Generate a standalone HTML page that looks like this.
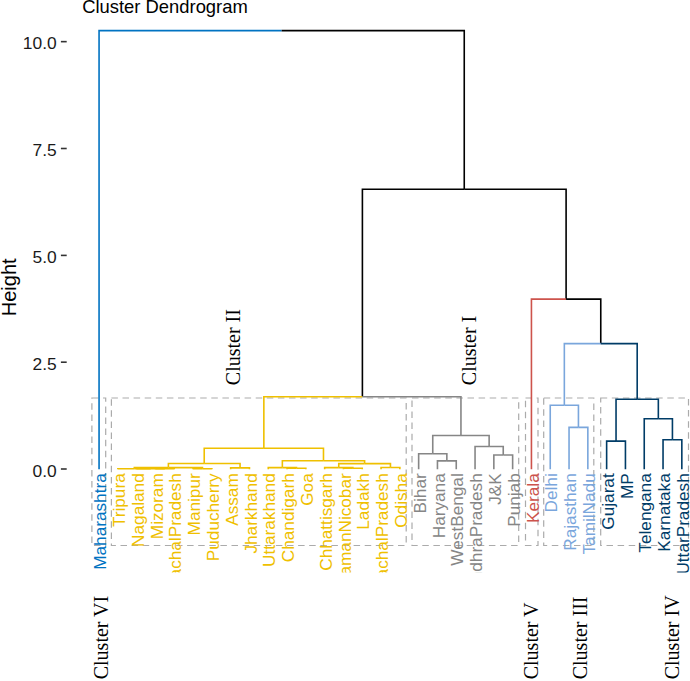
<!DOCTYPE html><html><head><meta charset="utf-8"><style>html,body{margin:0;padding:0;background:#fff;overflow:hidden;}svg{display:block;}</style></head><body>
<svg width="690" height="681" viewBox="0 0 690 681">
<rect width="690" height="681" fill="#fff"/>
<defs><clipPath id="pc"><rect x="0" y="0" width="690" height="572.5"/></clipPath></defs>
<text x="82.2" y="12.8" font-family="Liberation Sans" font-size="18.4" fill="#000">Cluster Dendrogram</text>
<line x1="60.9" y1="41.65" x2="66.7" y2="41.65" stroke="#333" stroke-width="1.6"/>
<text x="56.7" y="49.15" text-anchor="end" font-family="Liberation Sans" font-size="17.4" fill="#1a1a1a">10.0</text>
<line x1="60.9" y1="148.5" x2="66.7" y2="148.5" stroke="#333" stroke-width="1.6"/>
<text x="56.7" y="156.00" text-anchor="end" font-family="Liberation Sans" font-size="17.4" fill="#1a1a1a">7.5</text>
<line x1="60.9" y1="255.4" x2="66.7" y2="255.4" stroke="#333" stroke-width="1.6"/>
<text x="56.7" y="262.90" text-anchor="end" font-family="Liberation Sans" font-size="17.4" fill="#1a1a1a">5.0</text>
<line x1="60.9" y1="362.2" x2="66.7" y2="362.2" stroke="#333" stroke-width="1.6"/>
<text x="56.7" y="369.70" text-anchor="end" font-family="Liberation Sans" font-size="17.4" fill="#1a1a1a">2.5</text>
<line x1="60.9" y1="469.0" x2="66.7" y2="469.0" stroke="#333" stroke-width="1.6"/>
<text x="56.7" y="476.50" text-anchor="end" font-family="Liberation Sans" font-size="17.4" fill="#1a1a1a">0.0</text>
<text transform="translate(16.2,316.2) rotate(-90)" font-family="Liberation Sans" font-size="20" fill="#000">Height</text>
<rect x="91.90" y="398.0" width="13.80" height="147.50" fill="none" stroke="#ababab" stroke-width="1.2" stroke-dasharray="6.5 4.6"/>
<rect x="111.40" y="398.0" width="294.80" height="147.50" fill="none" stroke="#ababab" stroke-width="1.2" stroke-dasharray="6.5 4.6"/>
<rect x="412.00" y="398.0" width="106.70" height="147.50" fill="none" stroke="#ababab" stroke-width="1.2" stroke-dasharray="6.5 4.6"/>
<rect x="525.50" y="398.0" width="12.50" height="147.50" fill="none" stroke="#ababab" stroke-width="1.2" stroke-dasharray="6.5 4.6"/>
<rect x="543.70" y="398.0" width="50.10" height="147.50" fill="none" stroke="#ababab" stroke-width="1.2" stroke-dasharray="6.5 4.6"/>
<rect x="600.70" y="398.0" width="87.80" height="147.50" fill="none" stroke="#ababab" stroke-width="1.2" stroke-dasharray="6.5 4.6"/>
<path d="M281.66,30.6 H99.06 V469.3" fill="none" stroke="#0073C2" stroke-width="1.6"/>
<path d="M281.66,30.6 H464.25 V189.3" fill="none" stroke="#000000" stroke-width="1.6"/>
<path d="M464.25,189.3 H362.40 V396.7" fill="none" stroke="#000000" stroke-width="1.6"/>
<path d="M362.40,396.7 H263.85 V448.2" fill="none" stroke="#EFC000" stroke-width="1.6"/>
<path d="M263.85,448.2 H204.22 V463.5" fill="none" stroke="#EFC000" stroke-width="1.6"/>
<path d="M204.22,463.5 H168.39 V467.6" fill="none" stroke="#EFC000" stroke-width="1.6"/>
<path d="M168.39,467.6 H134.31 V468.7" fill="none" stroke="#EFC000" stroke-width="1.6"/>
<path d="M134.31,468.7 H117.86 V469.3" fill="none" stroke="#EFC000" stroke-width="1.6"/>
<path d="M134.31,468.7 H150.76 V468.7" fill="none" stroke="#EFC000" stroke-width="1.6"/>
<path d="M150.76,468.7 H136.66 V469.3" fill="none" stroke="#EFC000" stroke-width="1.6"/>
<path d="M150.76,468.7 H164.86 V468.7" fill="none" stroke="#EFC000" stroke-width="1.6"/>
<path d="M164.86,468.7 H155.46 V469.3" fill="none" stroke="#EFC000" stroke-width="1.6"/>
<path d="M164.86,468.7 H174.26 V469.3" fill="none" stroke="#EFC000" stroke-width="1.6"/>
<path d="M168.39,467.6 H202.46 V468.7" fill="none" stroke="#EFC000" stroke-width="1.6"/>
<path d="M202.46,468.7 H193.06 V469.3" fill="none" stroke="#EFC000" stroke-width="1.6"/>
<path d="M202.46,468.7 H211.86 V469.3" fill="none" stroke="#EFC000" stroke-width="1.6"/>
<path d="M204.22,463.5 H240.06 V467.9" fill="none" stroke="#EFC000" stroke-width="1.6"/>
<path d="M240.06,467.9 H230.66 V469.3" fill="none" stroke="#EFC000" stroke-width="1.6"/>
<path d="M240.06,467.9 H249.46 V469.3" fill="none" stroke="#EFC000" stroke-width="1.6"/>
<path d="M263.85,448.2 H323.48 V460.7" fill="none" stroke="#EFC000" stroke-width="1.6"/>
<path d="M323.48,460.7 H282.36 V467.6" fill="none" stroke="#EFC000" stroke-width="1.6"/>
<path d="M282.36,467.6 H268.26 V469.3" fill="none" stroke="#EFC000" stroke-width="1.6"/>
<path d="M282.36,467.6 H296.45 V468.3" fill="none" stroke="#EFC000" stroke-width="1.6"/>
<path d="M296.45,468.3 H287.06 V469.3" fill="none" stroke="#EFC000" stroke-width="1.6"/>
<path d="M296.45,468.3 H305.85 V469.3" fill="none" stroke="#EFC000" stroke-width="1.6"/>
<path d="M323.48,460.7 H364.60 V463.6" fill="none" stroke="#EFC000" stroke-width="1.6"/>
<path d="M364.60,463.6 H338.75 V467.6" fill="none" stroke="#EFC000" stroke-width="1.6"/>
<path d="M338.75,467.6 H324.65 V469.3" fill="none" stroke="#EFC000" stroke-width="1.6"/>
<path d="M338.75,467.6 H352.85 V468.3" fill="none" stroke="#EFC000" stroke-width="1.6"/>
<path d="M352.85,468.3 H343.45 V469.3" fill="none" stroke="#EFC000" stroke-width="1.6"/>
<path d="M352.85,468.3 H362.25 V469.3" fill="none" stroke="#EFC000" stroke-width="1.6"/>
<path d="M364.60,463.6 H390.45 V467.5" fill="none" stroke="#EFC000" stroke-width="1.6"/>
<path d="M390.45,467.5 H381.05 V469.3" fill="none" stroke="#EFC000" stroke-width="1.6"/>
<path d="M390.45,467.5 H399.85 V469.3" fill="none" stroke="#EFC000" stroke-width="1.6"/>
<path d="M362.40,396.7 H460.95 V435.5" fill="none" stroke="#868686" stroke-width="1.6"/>
<path d="M460.95,435.5 H432.75 V453.7" fill="none" stroke="#868686" stroke-width="1.6"/>
<path d="M432.75,453.7 H418.65 V469.3" fill="none" stroke="#868686" stroke-width="1.6"/>
<path d="M432.75,453.7 H446.85 V460.9" fill="none" stroke="#868686" stroke-width="1.6"/>
<path d="M446.85,460.9 H437.45 V469.3" fill="none" stroke="#868686" stroke-width="1.6"/>
<path d="M446.85,460.9 H456.25 V469.3" fill="none" stroke="#868686" stroke-width="1.6"/>
<path d="M460.95,435.5 H489.14 V446.5" fill="none" stroke="#868686" stroke-width="1.6"/>
<path d="M489.14,446.5 H475.05 V469.3" fill="none" stroke="#868686" stroke-width="1.6"/>
<path d="M489.14,446.5 H503.24 V455.0" fill="none" stroke="#868686" stroke-width="1.6"/>
<path d="M503.24,455.0 H493.84 V469.3" fill="none" stroke="#868686" stroke-width="1.6"/>
<path d="M503.24,455.0 H512.64 V469.3" fill="none" stroke="#868686" stroke-width="1.6"/>
<path d="M464.25,189.3 H566.10 V299.1" fill="none" stroke="#000000" stroke-width="1.6"/>
<path d="M566.10,299.1 H531.44 V469.3" fill="none" stroke="#CD534C" stroke-width="1.6"/>
<path d="M566.10,299.1 H600.76 V343.6" fill="none" stroke="#000000" stroke-width="1.6"/>
<path d="M600.76,343.6 H564.34 V405.2" fill="none" stroke="#7AA6DC" stroke-width="1.6"/>
<path d="M564.34,405.2 H550.24 V469.3" fill="none" stroke="#7AA6DC" stroke-width="1.6"/>
<path d="M564.34,405.2 H578.44 V427.4" fill="none" stroke="#7AA6DC" stroke-width="1.6"/>
<path d="M578.44,427.4 H569.04 V469.3" fill="none" stroke="#7AA6DC" stroke-width="1.6"/>
<path d="M578.44,427.4 H587.84 V469.3" fill="none" stroke="#7AA6DC" stroke-width="1.6"/>
<path d="M600.76,343.6 H637.19 V399.3" fill="none" stroke="#003C67" stroke-width="1.6"/>
<path d="M637.19,399.3 H616.04 V441.1" fill="none" stroke="#003C67" stroke-width="1.6"/>
<path d="M616.04,441.1 H606.64 V469.3" fill="none" stroke="#003C67" stroke-width="1.6"/>
<path d="M616.04,441.1 H625.44 V469.3" fill="none" stroke="#003C67" stroke-width="1.6"/>
<path d="M637.19,399.3 H658.34 V418.8" fill="none" stroke="#003C67" stroke-width="1.6"/>
<path d="M658.34,418.8 H644.24 V469.3" fill="none" stroke="#003C67" stroke-width="1.6"/>
<path d="M658.34,418.8 H672.43 V439.8" fill="none" stroke="#003C67" stroke-width="1.6"/>
<path d="M672.43,439.8 H663.04 V469.3" fill="none" stroke="#003C67" stroke-width="1.6"/>
<path d="M672.43,439.8 H681.83 V469.3" fill="none" stroke="#003C67" stroke-width="1.6"/>
<g clip-path="url(#pc)" font-family="Liberation Sans" font-size="17.2">
<text transform="translate(106.27,473.3) rotate(-90)" text-anchor="end" fill="#0073C2">Maharashtra</text>
<text transform="translate(125.06,473.3) rotate(-90)" text-anchor="end" fill="#EFC000">Tripura</text>
<text transform="translate(143.86,473.3) rotate(-90)" text-anchor="end" fill="#EFC000">Nagaland</text>
<text transform="translate(162.66,473.3) rotate(-90)" text-anchor="end" fill="#EFC000">Mizoram</text>
<text transform="translate(181.46,473.3) rotate(-90)" text-anchor="end" fill="#EFC000">ArunachalPradesh</text>
<text transform="translate(200.26,473.3) rotate(-90)" text-anchor="end" fill="#EFC000">Manipur</text>
<text transform="translate(219.06,473.3) rotate(-90)" text-anchor="end" fill="#EFC000">Puducherry</text>
<text transform="translate(237.86,473.3) rotate(-90)" text-anchor="end" fill="#EFC000">Assam</text>
<text transform="translate(256.66,473.3) rotate(-90)" text-anchor="end" fill="#EFC000">Jharkhand</text>
<text transform="translate(275.46,473.3) rotate(-90)" text-anchor="end" fill="#EFC000">Uttarakhand</text>
<text transform="translate(294.25,473.3) rotate(-90)" text-anchor="end" fill="#EFC000">Chandigarh</text>
<text transform="translate(313.05,473.3) rotate(-90)" text-anchor="end" fill="#EFC000">Goa</text>
<text transform="translate(331.85,473.3) rotate(-90)" text-anchor="end" fill="#EFC000">Chhattisgarh</text>
<text transform="translate(350.65,473.3) rotate(-90)" text-anchor="end" fill="#EFC000">AndamanNicobar</text>
<text transform="translate(369.45,473.3) rotate(-90)" text-anchor="end" fill="#EFC000">Ladakh</text>
<text transform="translate(388.25,473.3) rotate(-90)" text-anchor="end" fill="#EFC000">HimachalPradesh</text>
<text transform="translate(407.05,473.3) rotate(-90)" text-anchor="end" fill="#EFC000">Odisha</text>
<text transform="translate(425.85,473.3) rotate(-90)" text-anchor="end" fill="#868686">Bihar</text>
<text transform="translate(444.65,473.3) rotate(-90)" text-anchor="end" fill="#868686">Haryana</text>
<text transform="translate(463.45,473.3) rotate(-90)" text-anchor="end" fill="#868686">WestBengal</text>
<text transform="translate(482.25,473.3) rotate(-90)" text-anchor="end" fill="#868686">AndhraPradesh</text>
<text transform="translate(501.04,473.3) rotate(-90)" text-anchor="end" fill="#868686">J&amp;K</text>
<text transform="translate(519.84,473.3) rotate(-90)" text-anchor="end" fill="#868686">Punjab</text>
<text transform="translate(538.64,473.3) rotate(-90)" text-anchor="end" fill="#CD534C">Kerala</text>
<text transform="translate(557.44,473.3) rotate(-90)" text-anchor="end" fill="#7AA6DC">Delhi</text>
<text transform="translate(576.24,473.3) rotate(-90)" text-anchor="end" fill="#7AA6DC">Rajasthan</text>
<text transform="translate(595.04,473.3) rotate(-90)" text-anchor="end" fill="#7AA6DC">TamilNadu</text>
<text transform="translate(613.84,473.3) rotate(-90)" text-anchor="end" fill="#003C67">Gujarat</text>
<text transform="translate(632.64,473.3) rotate(-90)" text-anchor="end" fill="#003C67">MP</text>
<text transform="translate(651.44,473.3) rotate(-90)" text-anchor="end" fill="#003C67">Telengana</text>
<text transform="translate(670.24,473.3) rotate(-90)" text-anchor="end" fill="#003C67">Karnataka</text>
<text transform="translate(689.03,473.3) rotate(-90)" text-anchor="end" fill="#003C67">UttarPradesh</text>
</g>
<text transform="translate(240.3,385.2) rotate(-90)" font-family="Liberation Serif" font-size="20" fill="#000">Cluster II</text>
<text transform="translate(475.9,385.2) rotate(-90)" font-family="Liberation Serif" font-size="20" fill="#000">Cluster I</text>
<text transform="translate(107.6,679.3) rotate(-90)" font-family="Liberation Serif" font-size="20" fill="#000">Cluster VI</text>
<text transform="translate(538.2,679.3) rotate(-90)" font-family="Liberation Serif" font-size="20" fill="#000">Cluster V</text>
<text transform="translate(587.0,679.3) rotate(-90)" font-family="Liberation Serif" font-size="20" fill="#000">Cluster III</text>
<text transform="translate(678.9,679.3) rotate(-90)" font-family="Liberation Serif" font-size="20" fill="#000">Cluster IV</text>
</svg></body></html>
